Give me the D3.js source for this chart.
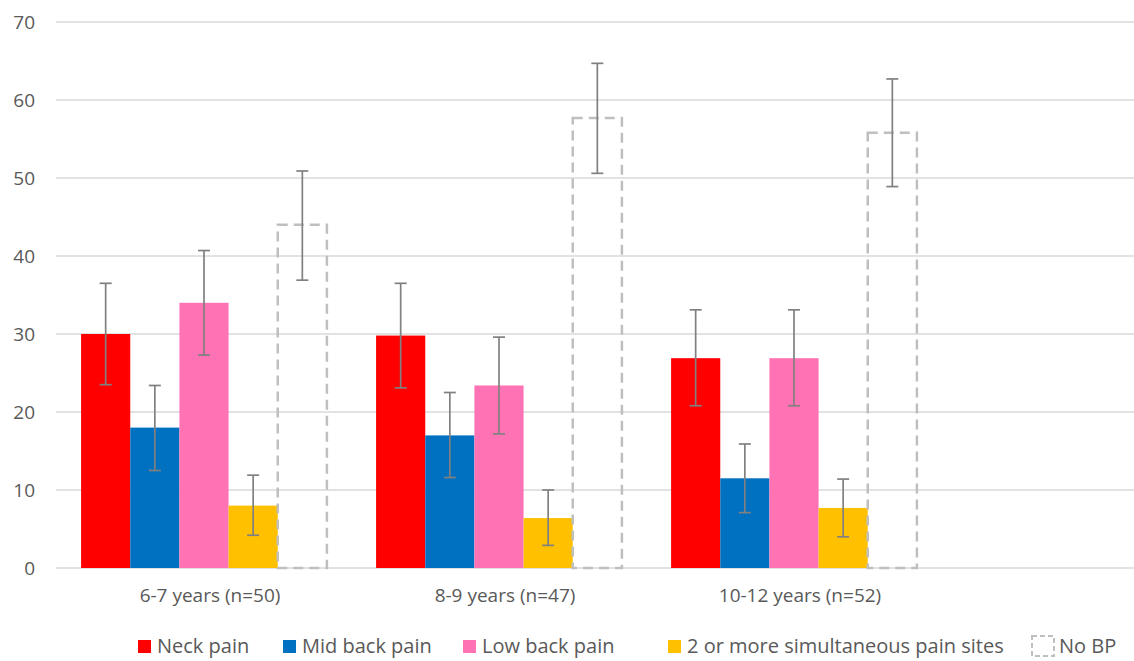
<!DOCTYPE html>
<html>
<head>
<meta charset="utf-8">
<script src="https://cdn.jsdelivr.net/npm/d3@7"></script>
<style>
  body { margin: 0; background: #fff; }
  text { font-family: "Open Sans", sans-serif; fill: #595959; }
</style>
</head>
<body>
<div id="container"></div>
<script>
const groups = ["6-7 years (n=50)", "8-9 years (n=47)", "10-12 years (n=52)"];
const seriesNames = ["Neck pain", "Mid back pain", "Low back pain", "2 or more simultaneous pain sites", "No BP"];
const seriesColors = ["#ff0000", "#0070c0", "#ff73b5", "#ffc000", "none"];

// values per series, one per group
const neck = [30, 29.8, 26.9];
const midBack = [18, 17, 11.5];
const lowBack = [34, 23.4, 26.9];
const multi = [8, 6.4, 7.7];
const noBP = [44, 57.7, 55.8];

// error bar lows / highs
const neckLo = [23.5, 23.1, 20.8], neckHi = [36.5, 36.5, 33.1];
const midLo = [12.5, 11.6, 7.1], midHi = [23.4, 22.5, 15.9];
const lowLo = [27.3, 17.2, 20.8], lowHi = [40.7, 29.6, 33.1];
const multiLo = [4.2, 2.9, 4.0], multiHi = [11.9, 10.0, 11.4];
const noLo = [36.9, 50.6, 48.9], noHi = [50.9, 64.7, 62.7];

const yTicks = [0, 10, 20, 30, 40, 50, 60, 70];

const width = 1134;
const height = 661;

const values = [neck, midBack, lowBack, multi, noBP];
const lows = [neckLo, midLo, lowLo, multiLo, noLo];
const highs = [neckHi, midHi, lowHi, multiHi, noHi];

const svg = d3.select("#container").append("svg")
  .attr("width", width)
  .attr("height", height);

const yScale = d3.scaleLinear().domain([0, 70]).range([568, 22]);

const xScale = d3.scaleBand()
  .domain(groups)
  .range([56.5, 56.5 + 295 * 3])
  .padding(0);

// 5 bars per group, half a bar of gap on each side (Excel gap width 100%)
const xInner = d3.scaleBand()
  .domain(seriesNames)
  .range([xScale.bandwidth() / 12, xScale.bandwidth() * 11 / 12])
  .padding(0);

// grid lines
svg.append("g")
  .selectAll("line")
  .data(yTicks)
  .enter()
  .append("line")
  .attr("x1", 56)
  .attr("x2", width)
  .attr("y1", (d) => yScale(d))
  .attr("y2", (d) => yScale(d))
  .attr("stroke", "#d9d9d9")
  .attr("stroke-width", 1.5);

// y axis labels
const yAxis = d3.axisLeft(yScale).tickValues(yTicks).tickSize(0).tickPadding(0);
const yG = svg.append("g")
  .attr("transform", "translate(35,0)")
  .call(yAxis);
yG.select(".domain").remove();
yG.selectAll("text")
  .style("font-size", "19px")
  .style("font-family", "'Open Sans', sans-serif")
  .attr("fill", "#595959");

// x axis labels
const xAxis = d3.axisBottom(xScale).tickSize(0).tickPadding(0);
const xG = svg.append("g")
  .attr("transform", "translate(6,588)")
  .call(xAxis);
xG.select(".domain").remove();
xG.selectAll("text")
  .style("font-size", "19px")
  .style("font-family", "'Open Sans', sans-serif")
  .attr("fill", "#595959");

// bars
const barData = [];
groups.forEach((g, gi) => {
  seriesNames.forEach((s, si) => {
    barData.push({ group: g, series: s, si: si, value: values[si][gi], lo: lows[si][gi], hi: highs[si][gi] });
  });
});

svg.append("g")
  .selectAll("rect")
  .data(barData)
  .enter()
  .append("rect")
  .attr("x", (d) => xScale(d.group) + xInner(d.series))
  .attr("y", (d) => yScale(d.value))
  .attr("width", xInner.bandwidth())
  .attr("height", (d) => yScale(0) - yScale(d.value))
  .attr("fill", (d) => (d.si === 4 ? "none" : seriesColors[d.si]))
  .attr("stroke", (d) => (d.si === 4 ? "#bfbfbf" : "none"))
  .attr("stroke-width", (d) => (d.si === 4 ? 2.5 : 0))
  .attr("stroke-dasharray", (d) => (d.si === 4 ? "10,6" : null));

// error bars
const err = svg.append("g").attr("stroke", "#808080").attr("stroke-width", 1.7);
barData.forEach((d) => {
  const cx = xScale(d.group) + xInner(d.series) + xInner.bandwidth() / 2;
  err.append("line").attr("x1", cx).attr("x2", cx).attr("y1", yScale(d.lo)).attr("y2", yScale(d.hi));
  err.append("line").attr("x1", cx - 6).attr("x2", cx + 6).attr("y1", yScale(d.lo)).attr("y2", yScale(d.lo));
  err.append("line").attr("x1", cx - 6).attr("x2", cx + 6).attr("y1", yScale(d.hi)).attr("y2", yScale(d.hi));
});

// legend
const legendX = [138, 283, 463, 668, 1032];
const legend = svg.append("g").attr("transform", "translate(0,646)");
seriesNames.forEach((s, i) => {
  const g = legend.append("g").attr("transform", `translate(${legendX[i]},0)`);
  if (i < 4) {
    g.append("rect")
      .attr("x", 0).attr("y", -6)
      .attr("width", 13).attr("height", 13)
      .attr("fill", seriesColors[i]);
    g.append("text").attr("x", 19).attr("y", 0).attr("dy", "0.35em")
      .style("font-size", "20px").text(s);
  } else {
    g.append("rect")
      .attr("x", 0).attr("y", -10)
      .attr("width", 22).attr("height", 20)
      .attr("fill", "none")
      .attr("stroke", "#bfbfbf")
      .attr("stroke-width", 2)
      .attr("stroke-dasharray", "5,3");
    g.append("text").attr("x", 27).attr("y", 0).attr("dy", "0.35em")
      .style("font-size", "20px").text(s);
  }
});
</script>
</body>
</html>
